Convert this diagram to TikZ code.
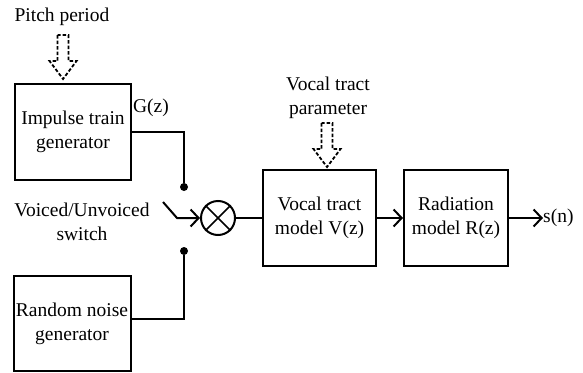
\documentclass[tikz,border=0pt]{standalone}
\usepackage{fontspec}
\setmainfont{Liberation Serif}
\usetikzlibrary{arrows.meta}
\begin{document}
\begin{tikzpicture}[x=1pt,y=-1pt,
  every node/.style={font=\fontsize{19.5}{24}\selectfont},
  blockbox/.style={draw,line width=2pt,inner sep=0pt,align=center},
  lbl/.style={inner sep=0pt,align=center},
  wire/.style={line width=2pt},
  arr/.style={line width=2pt,-{Straight Barb[length=8pt,width=17pt,line width=2pt]}},
  dot/.style={circle,fill,inner sep=0pt,minimum size=8pt},
  hollowarrow/.pic={\draw[line width=1.8pt,dash pattern=on 3.5pt off 2pt]
     (-5.5,-44)--(-5.5,-18)--(-13.5,-18)--(0,0)--(13.5,-18)--(5.5,-18)--(5.5,-44)--cycle;}]
\useasboundingbox (0,0) rectangle (583,372);
\node[blockbox,minimum width=116pt,minimum height=96pt] (imp) at (73,132) {Impulse train\\generator};
\node[blockbox,minimum width=117pt,minimum height=95pt] (noise) at (72,323.5) {Random noise\\generator};
\node[blockbox,minimum width=113pt,minimum height=96pt] (vt) at (319.5,218) {Vocal tract\\model V(z)};
\node[blockbox,minimum width=104pt,minimum height=96pt] (rad) at (456,218) {Radiation\\model R(z)};
\node[circle,draw,line width=2pt,inner sep=0pt,minimum size=34pt] (mul) at (218,218) {};
\draw[line width=1.6pt] (mul.north west) -- (mul.south east) (mul.north east) -- (mul.south west);
\node[dot] (d1) at (184,187) {};
\node[dot] (d2) at (184,251) {};
\node[lbl] (pitch) at (62,17) {Pitch period};
\node[lbl] (gz) at (151,108) {G(z)};
\node[lbl] (vus) at (82,222) {Voiced/Unvoiced\\switch};
\node[lbl] (vtp) at (328,98) {Vocal tract\\parameter};
\node[lbl,anchor=west] (sn) at (543,218) {s(n)};
\pic at (63,79) {hollowarrow};
\pic at (327,167) {hollowarrow};
\coordinate (s1) at (163,202);
\coordinate (s2) at (177,218);
\draw[wire] (imp.east) -| (d1);
\draw[wire] ([yshift=4.5pt]noise.east) -| (d2);
\draw[arr] (s1) -- (s2) -- (mul.west);
\draw[wire] (mul.east) -- (vt.west);
\draw[arr] (vt.east) -- (rad.west);
\draw[arr] (rad.east) -- (sn.west);
\end{tikzpicture}
\end{document}
